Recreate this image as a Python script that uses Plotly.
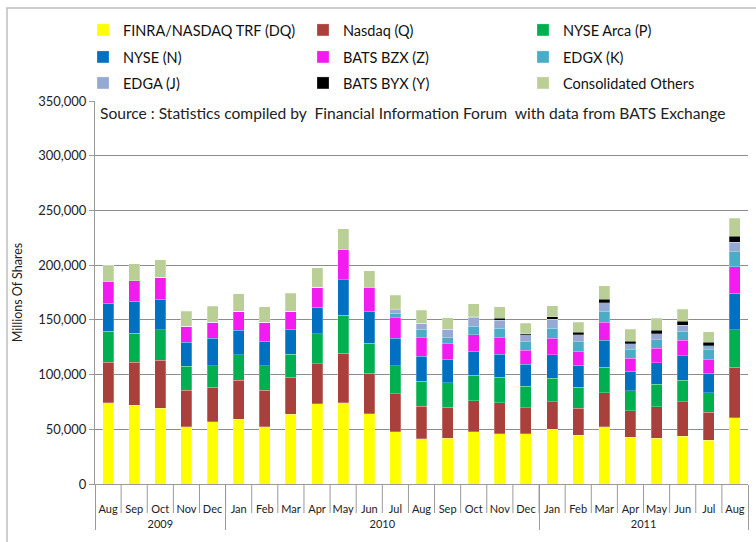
import plotly.graph_objects as go

ZW = "\u200b"  # invisible marker so repeated month names in 2010 stay distinct categories
years = ["2009"] * 5 + ["2010"] * 12 + ["2011"] * 8
months = ["Aug", "Sep", "Oct", "Nov", "Dec",
          "Jan", "Feb", "Mar", "Apr", "May", "Jun", "Jul",
          "Aug" + ZW, "Sep" + ZW, "Oct" + ZW, "Nov" + ZW, "Dec" + ZW,
          "Jan", "Feb", "Mar", "Apr", "May", "Jun", "Jul", "Aug" + ZW]

finra_dq = [74400, 72000, 69200, 52100, 57000, 59400, 52100, 63700, 73500, 74100, 64300, 47800, 41400,
            42000, 47800, 45900, 45900, 50100, 44400, 52100, 42900, 42000, 43500, 39800, 60400]
nasdaq_q = [36800, 39200, 43800, 33700, 31200, 35600, 33700, 33700, 36200, 45400, 37100, 34900, 29700,
            28100, 28200, 28500, 23900, 24900, 24800, 31500, 24200, 28800, 31600, 25800, 46200]
nyse_arca_p = [28500, 26600, 27900, 21700, 19900, 22900, 22300, 21400, 27500, 34900, 27200, 25400, 22900,
               22400, 23200, 23000, 19600, 21800, 19000, 23000, 18100, 20500, 19900, 17700, 34300]
nyse_n = [25700, 29100, 28100, 22100, 25100, 22700, 22400, 22400, 24500, 32100, 29400, 25100, 22700,
          21400, 22100, 21400, 19900, 21200, 20300, 24800, 17700, 19300, 22400, 18100, 33400]
bats_bzx_z = [19600, 19000, 20000, 14700, 14700, 17100, 17400, 16500, 18100, 27600, 21200, 18700, 17200,
              14700, 15000, 15100, 12900, 15300, 12800, 16600, 12000, 13500, 14000, 12600, 24200]
edgx_k = [0, 0, 0, 0, 0, 0, 0, 0, 0, 0, 0, 4300, 7600,
          5600, 8000, 8500, 7700, 9000, 8600, 9800, 7700, 7700, 8300, 8600, 13800]
edga_j = [0, 0, 0, 0, 0, 0, 0, 0, 0, 0, 0, 3100, 5500,
          7000, 8200, 7100, 6400, 8400, 6400, 8000, 5500, 5500, 5500, 3600, 8600]
bats_byx_y = [0, 0, 0, 0, 0, 0, 0, 0, 0, 0, 0, 0, 0,
              0, 300, 2100, 900, 2200, 2200, 3000, 2400, 3000, 3700, 3400, 5500]
others = [14700, 15600, 15900, 13400, 14700, 16000, 14100, 16600, 17800, 19000, 15900, 13400, 11700,
          10700, 11700, 10400, 9800, 10100, 9500, 12300, 10800, 11100, 10700, 9500, 16600]

series = [
    ("FINRA/NASDAQ TRF (DQ)", finra_dq, "#FFFF00", "legend"),
    ("Nasdaq (Q)", nasdaq_q, "#A9403C", "legend"),
    ("NYSE Arca (P)", nyse_arca_p, "#00B050", "legend"),
    ("NYSE (N)", nyse_n, "#0070C0", "legend2"),
    ("BATS BZX (Z)", bats_bzx_z, "#F21CF0", "legend2"),
    ("EDGX (K)", edgx_k, "#4BACC6", "legend2"),
    ("EDGA (J)", edga_j, "#95A9D2", "legend3"),
    ("BATS BYX (Y)", bats_byx_y, "#000000", "legend3"),
    ("Consolidated Others", others, "#BACF96", "legend3"),
]

FONT = "Lato"
W, H = 756, 542
L, R, T, B = 95, 8, 101, 58
PW, PH = W - L - R, H - T - B

def px_x(p):
    return (p - L) / PW

def px_y(p):
    return (H - B - p) / PH

# label rows are pushed lower with an empty leading line
year_labels = ["<br>" + y for y in years]
month_labels = ["<br>" + m for m in months]

fig = go.Figure()
for name, vals, color, leg in series:
    fig.add_trace(go.Bar(
        x=[year_labels, month_labels], y=vals, name=name, legend=leg,
        marker=dict(color=color, line=dict(color="rgba(255,255,255,0.5)", width=0.5)),
    ))

n = len(months)
shapes = []
# separators between month labels
for i in range(1, n):
    shapes.append(dict(type="line", xref="paper", yref="paper",
                       x0=i / n, x1=i / n, y0=0, y1=-29 / PH,
                       line=dict(color="#9A9A9A", width=1)))
# outer chart border
shapes.append(dict(type="rect", xref="paper", yref="paper",
                   x0=px_x(7), x1=px_x(770), y0=px_y(8), y1=px_y(560),
                   line=dict(color="#BFBFBF", width=1.5), layer="below"))

leg_common = dict(orientation="h", xanchor="left", yanchor="middle",
                  font=dict(family=FONT, size=14.5, color="#111"),
                  entrywidth=175, entrywidthmode="pixels",
                  bgcolor="rgba(0,0,0,0)", traceorder="normal")

LX = px_x(83)
fig.update_layout(
    width=W, height=H,
    margin=dict(l=L, r=R, t=T, b=B, autoexpand=False),
    paper_bgcolor="white", plot_bgcolor="white",
    font=dict(family=FONT, size=13, color="#222"),
    barmode="stack", bargap=0.58,
    showlegend=True,
    legend=dict(x=LX, y=px_y(30), **leg_common),
    legend2=dict(x=LX, y=px_y(57), **leg_common),
    legend3=dict(x=LX, y=px_y(83), **leg_common),
    xaxis=dict(
        type="multicategory", showline=True, linecolor="#9A9A9A", linewidth=1,
        ticks="",
        showgrid=False, showdividers=True, dividercolor="#9A9A9A", dividerwidth=1,
        tickangle=0, automargin=False,
        tickfont=dict(family=FONT, size=11, color="#222"),
    ),
    yaxis=dict(
        range=[0, 350000], dtick=50000, tickformat=",", showline=True,
        linecolor="#9A9A9A", linewidth=1, ticks="outside", ticklen=5, tickcolor="#9A9A9A",
        showgrid=True, gridcolor="#8C8C8C", gridwidth=1, zeroline=False,
        tickfont=dict(family=FONT, size=13, color="#222"),
        title=dict(text="Millions Of Shares", font=dict(family=FONT, size=12.5, color="#222"), standoff=12),
        automargin=False,
    ),
    shapes=shapes,
    annotations=[dict(
        text="Source : Statistics compiled by  Financial Information Forum  with data from BATS Exchange",
        xref="paper", yref="paper", x=px_x(98), y=px_y(113), xanchor="left", yanchor="middle",
        showarrow=False, font=dict(family=FONT, size=15.6, color="#222"),
    )],
)

fig.write_html("out.html", config={"displayModeBar": False},
               post_script="document.body.style.margin='0';")
